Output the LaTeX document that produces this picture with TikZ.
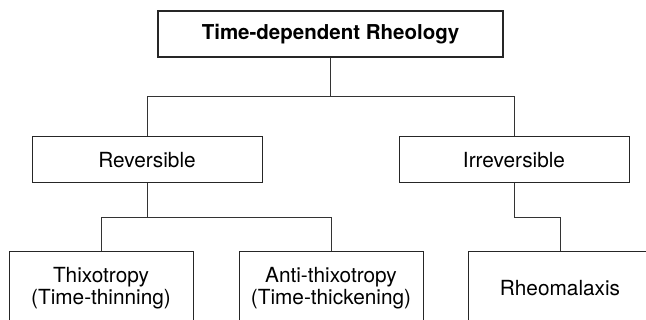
\documentclass[tikz,border=0pt]{standalone}
\usepackage{fontspec}
\setmainfont{TeX Gyre Heros}
\begin{document}
\begin{tikzpicture}[x=1pt,y=-1pt,
  box/.style={draw=black!85, line width=1pt, inner sep=0pt, align=center,
    font=\fontsize{20.8}{22.5}\selectfont},
  topbox/.style={box, line width=2pt, font=\fontsize{20.5}{22.5}\selectfont\bfseries},
  conn/.style={draw=black!80, line width=1pt}]
\useasboundingbox (0,0) rectangle (646,320);
\node[topbox, minimum width=345pt, minimum height=46pt] (top) at (330.5,34) {Time-dependent Rheology};
\node[box, minimum width=230pt, minimum height=46pt] (rev) at (147,160) {Reversible};
\node[box, minimum width=230pt, minimum height=46pt] (irr) at (514,160) {Irreversible};
\node[box, minimum width=184pt, minimum height=72pt] (thix) at (101,288) {Thixotropy\\(Time-thinning)};
\node[box, minimum width=184pt, minimum height=72pt] (anti) at (331,288) {Anti-thixotropy\\(Time-thickening)};
\node[box, minimum width=184pt, minimum height=72pt] (rheo) at (560,288) {Rheomalaxis};
\coordinate (j1) at (330.5,97);
\coordinate (j2) at (330.5,218);
\draw[conn] (top.south) -- (j1);
\draw[conn] (rev.north) -- (rev.north |- j1) -- (irr.north |- j1) -- (irr.north);
\draw[conn] (rev.south) -- (rev.south |- j2);
\draw[conn] (thix.north) -- (thix.north |- j2) -- (anti.north |- j2) -- (anti.north);
\draw[conn] (irr.south) -- (irr.south |- j2) -- (rheo.north |- j2) -- (rheo.north);
\end{tikzpicture}
\end{document}
